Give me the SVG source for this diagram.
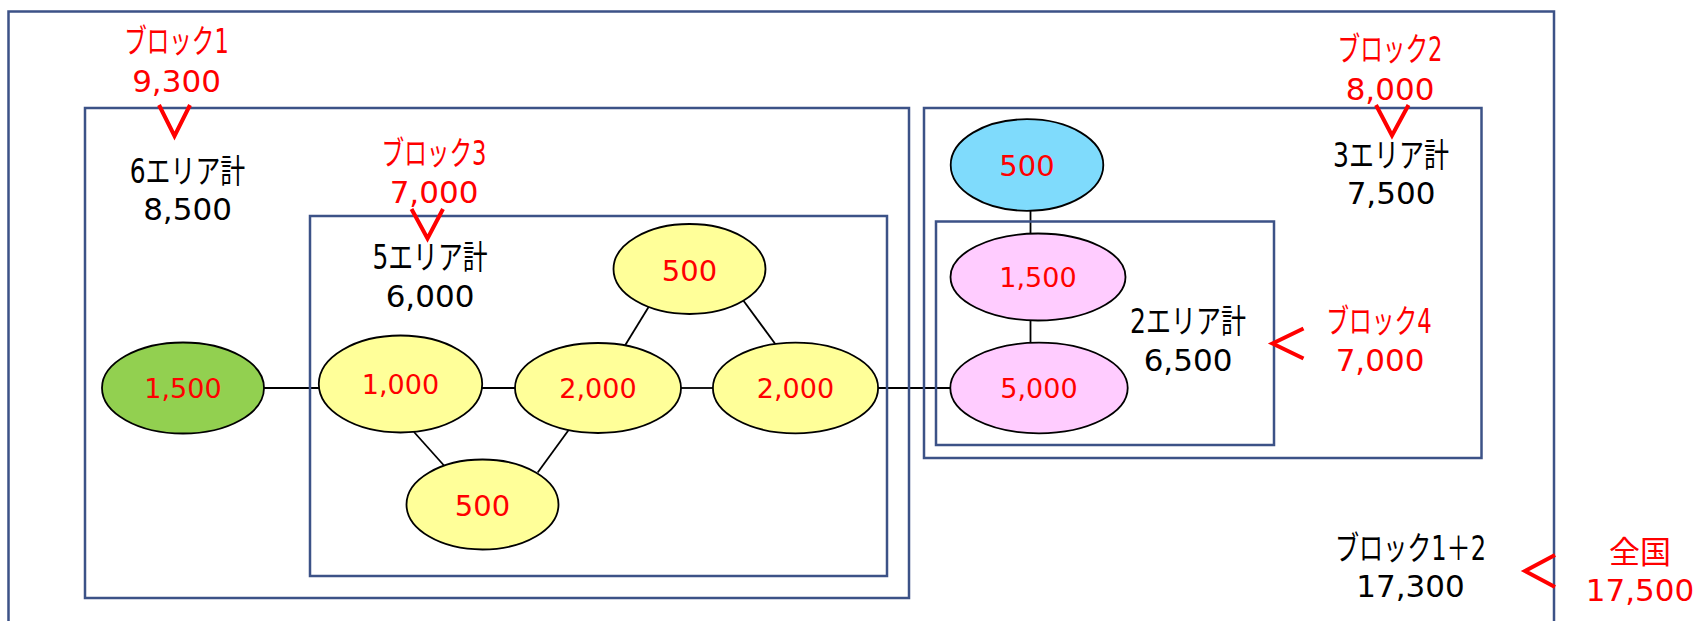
<svg xmlns="http://www.w3.org/2000/svg" width="1700" height="621" viewBox="0 0 1700 621">
  <style>
    .box { fill: none; stroke: #3C5287; stroke-width: 2.5; }
    .area { stroke: #000; stroke-width: 1.8; }
    .link { stroke: #000; stroke-width: 1.8; fill: none; }
    .chev { fill: none; stroke: #FF0000; stroke-width: 4; stroke-linejoin: miter; stroke-linecap: butt; }
    text { font-family: "DejaVu Sans", "Noto Sans CJK JP", sans-serif; text-anchor: middle; }
    .lbl { font-size: 31px; fill: #000; }
    .jp { font-size: 33px; }
    .red { fill: #FF0000; }
    .val { font-size: 27px; fill: #FF0000; }
    .val5 { font-size: 29px; fill: #FF0000; }
    .yellow { fill: #FFFF99; }
    .green { fill: #92D050; }
    .cyan { fill: #7FDBFC; }
    .pink { fill: #FFCCFF; }
  </style>

  <!-- links between areas (drawn below the block frames) -->
  <g id="connectors">
    <line class="link" x1="264" y1="388" x2="319" y2="388"/>
    <line class="link" x1="482" y1="388" x2="515" y2="388"/>
    <line class="link" x1="681" y1="388" x2="713" y2="388"/>
    <line class="link" x1="878" y1="388" x2="951" y2="388"/>
    <line class="link" x1="414" y1="432" x2="444" y2="465.5"/>
    <line class="link" x1="537.7" y1="472.5" x2="568.3" y2="430.5"/>
    <line class="link" x1="625" y1="345.5" x2="648.6" y2="307"/>
    <line class="link" x1="743.5" y1="300.7" x2="775.3" y2="344"/>
    <line class="link" x1="1030.5" y1="210.8" x2="1030.5" y2="233.7"/>
    <line class="link" x1="1030.5" y1="320.3" x2="1030.5" y2="343"/>
  </g>

  <!-- block frames -->
  <g id="zenkoku">
    <rect class="box" x="8.5" y="11.5" width="1545.5" height="640"/>
    <text class="lbl jp" x="1410.5" y="560" textLength="151" lengthAdjust="spacingAndGlyphs">ブロック1＋2</text>
    <text class="lbl" x="1410.5" y="597">17,300</text>
    <polyline class="chev" points="1555,555 1525,571 1555,587"/>
    <text class="lbl red" x="1640" y="563">全国</text>
    <text class="lbl red" x="1640" y="601">17,500</text>
  </g>

  <g id="block1">
    <rect class="box" x="85" y="108" width="824" height="490"/>
    <text class="lbl jp red" x="176.5" y="53" textLength="104.5" lengthAdjust="spacingAndGlyphs">ブロック1</text>
    <text class="lbl red" x="176.5" y="92">9,300</text>
    <polyline class="chev" points="159,105 174.5,136 190,105"/>
    <text class="lbl jp" x="187.5" y="183" textLength="115.5" lengthAdjust="spacingAndGlyphs">6エリア計</text>
    <text class="lbl" x="187.5" y="220">8,500</text>
  </g>

  <g id="block3">
    <rect class="box" x="310" y="216" width="577" height="360"/>
    <text class="lbl jp red" x="434" y="165" textLength="105" lengthAdjust="spacingAndGlyphs">ブロック3</text>
    <text class="lbl red" x="434" y="203">7,000</text>
    <polyline class="chev" points="411.5,209 427.5,238.5 443,209"/>
    <text class="lbl jp" x="430" y="268.5" textLength="115" lengthAdjust="spacingAndGlyphs">5エリア計</text>
    <text class="lbl" x="430" y="307">6,000</text>
  </g>

  <g id="block2">
    <rect class="box" x="924" y="108" width="557.5" height="350"/>
    <text class="lbl jp red" x="1390" y="61" textLength="105" lengthAdjust="spacingAndGlyphs">ブロック2</text>
    <text class="lbl red" x="1390" y="100">8,000</text>
    <polyline class="chev" points="1376,105 1392,135.5 1408.5,105"/>
    <text class="lbl jp" x="1391" y="167" textLength="116" lengthAdjust="spacingAndGlyphs">3エリア計</text>
    <text class="lbl" x="1391" y="204">7,500</text>
  </g>

  <g id="block4">
    <rect class="box" x="936" y="221.5" width="338" height="223.5"/>
    <text class="lbl jp" x="1188" y="333" textLength="116" lengthAdjust="spacingAndGlyphs">2エリア計</text>
    <text class="lbl" x="1188" y="371">6,500</text>
    <polyline class="chev" points="1303.5,328.5 1272.5,343.5 1303.5,358.5"/>
    <text class="lbl jp red" x="1379" y="333" textLength="105.5" lengthAdjust="spacingAndGlyphs">ブロック4</text>
    <text class="lbl red" x="1380" y="371">7,000</text>
  </g>

  <!-- areas -->
  <g id="area-green-1500">
    <ellipse class="area green" cx="183" cy="388" rx="81" ry="45.5"/>
    <text class="val" x="183" y="398">1,500</text>
  </g>
  <g id="area-1000">
    <ellipse class="area yellow" cx="400.5" cy="384" rx="81.7" ry="48.5"/>
    <text class="val" x="400.5" y="394">1,000</text>
  </g>
  <g id="area-500-bottom">
    <ellipse class="area yellow" cx="482.5" cy="504.5" rx="76" ry="45"/>
    <text class="val5" x="482.5" y="516">500</text>
  </g>
  <g id="area-2000-mid">
    <ellipse class="area yellow" cx="598" cy="388" rx="83" ry="45"/>
    <text class="val" x="598" y="398">2,000</text>
  </g>
  <g id="area-500-top">
    <ellipse class="area yellow" cx="689.5" cy="269" rx="76" ry="45"/>
    <text class="val5" x="689.5" y="281">500</text>
  </g>
  <g id="area-2000-right">
    <ellipse class="area yellow" cx="795.5" cy="388" rx="82.6" ry="45.3"/>
    <text class="val" x="795.5" y="398">2,000</text>
  </g>
  <g id="area-cyan-500">
    <ellipse class="area cyan" cx="1027" cy="165" rx="76.3" ry="45.8"/>
    <text class="val5" x="1027" y="176">500</text>
  </g>
  <g id="area-pink-1500">
    <ellipse class="area pink" cx="1038" cy="277" rx="87.5" ry="43.5"/>
    <text class="val" x="1038" y="287">1,500</text>
  </g>
  <g id="area-pink-5000">
    <ellipse class="area pink" cx="1039" cy="388" rx="88.7" ry="45.3"/>
    <text class="val" x="1039" y="398">5,000</text>
  </g>
</svg>
